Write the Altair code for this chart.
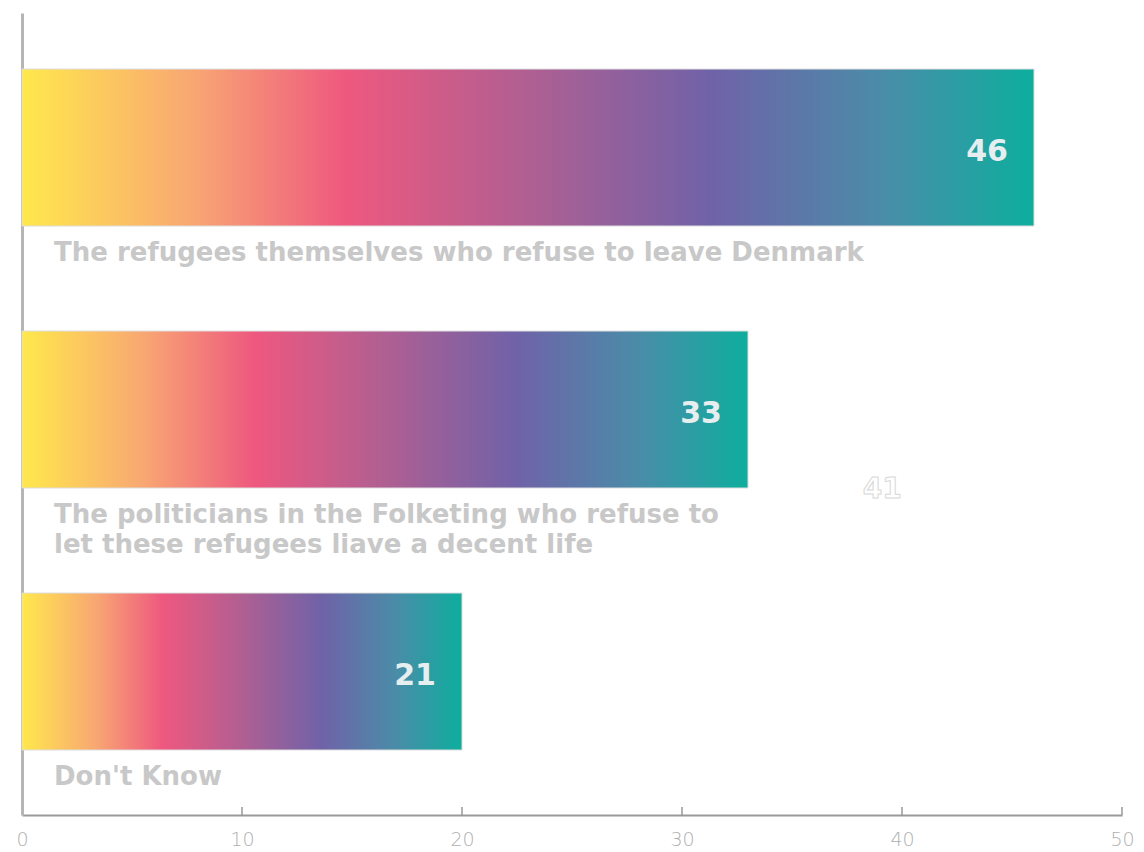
import altair as alt
import pandas as pd

categories = [
    "The refugees themselves who refuse to leave Denmark",
    "The politicians in the Folketing who refuse to\nlet these refugees liave a decent life",
    "Don't Know",
]
bar_values = [46, 33, 20]
value_labels = ["46", "33", "21"]
x_ticks = [0, 10, 20, 30, 40, 50]
ghost_label = "41"
ghost_x = 39.1
ghost_category = categories[1]

df = pd.DataFrame({"cat": categories, "value": bar_values, "label": value_labels,
                   "order": [0, 1, 2]})
ticks_df = pd.DataFrame({"t": x_ticks[1:]})
ghost_df = pd.DataFrame({"cat": [ghost_category], "x": [ghost_x], "label": [ghost_label]})

xscale = alt.Scale(domain=[0, 50], nice=False)
yscale = alt.Scale(domain=categories, paddingInner=0.4008, paddingOuter=0.231, align=0.463)

gradient = alt.Gradient(
    gradient="linear", x1=0, x2=1, y1=0, y2=0,
    stops=[
        alt.GradientStop(offset=0.0, color="#FFE84C"),
        alt.GradientStop(offset=0.17, color="#F8A673"),
        alt.GradientStop(offset=0.32, color="#EE587F"),
        alt.GradientStop(offset=0.50, color="#B05F92"),
        alt.GradientStop(offset=0.68, color="#7062A8"),
        alt.GradientStop(offset=0.85, color="#4A8CA8"),
        alt.GradientStop(offset=1.0, color="#0DAE9E"),
    ],
)

base = alt.Chart(df)

bars = base.mark_bar(color=gradient, stroke="#dddddd", strokeWidth=1).encode(
    x=alt.X("value:Q", scale=xscale,
            axis=alt.Axis(values=x_ticks, ticks=False, grid=False, title=None,
                          domainColor="#999999", domainWidth=2,
                          labelColor="#b0b0b0", labelFontSize=19,
                          labelFontWeight=200,
                          labelFont="DejaVu Sans", labelPadding=15,
                          labelFlush=False)),
    y=alt.Y("cat:N", scale=yscale, sort=categories,
            axis=alt.Axis(labels=False, ticks=False, title=None, grid=False,
                          domainColor="#b5b5b5", domainWidth=3)),
)

values = base.mark_text(align="right", baseline="middle", dx=-26, dy=4,
                        font="DejaVu Sans", fontWeight="bold", fontSize=30,
                        color="#e6eef0").encode(
    x=alt.X("value:Q", scale=xscale),
    y=alt.Y("cat:N", scale=yscale, sort=categories),
    text="label:N",
)

cat_labels = base.mark_text(align="left", baseline="top", dy=92, lineBreak="\n",
                            font="DejaVu Sans", fontWeight="bold", fontSize=26,
                            lineHeight=30, color="#c8c8c8").encode(
    x=alt.value(32),
    y=alt.Y("cat:N", scale=yscale, sort=categories),
    text="cat:N",
)

tick_rules = alt.Chart(ticks_df).mark_rule(color="#999999", strokeWidth=1.5).encode(
    x=alt.X("t:Q", scale=xscale),
    y=alt.value(794),
    y2=alt.value(802),
)

ghost = alt.Chart(ghost_df).mark_text(align="center", baseline="middle", dy=80,
                                      font="DejaVu Sans", fontWeight="bold", fontSize=28,
                                      color="#ffffff", stroke="#d8d8d8",
                                      strokeWidth=1).encode(
    x=alt.X("x:Q", scale=xscale),
    y=alt.Y("cat:N", scale=yscale, sort=categories),
    text="label:N",
)

chart = alt.layer(bars, values, cat_labels, tick_rules, ghost).properties(
    width=1100, height=802,
    background="white",
    autosize=alt.AutoSizeParams(type="none"),
    padding={"left": 14, "top": 5, "right": 14, "bottom": 37},
).configure_view(stroke=None, strokeWidth=0)

chart.save("out.html", embed_options={"renderer": "svg", "actions": False})
